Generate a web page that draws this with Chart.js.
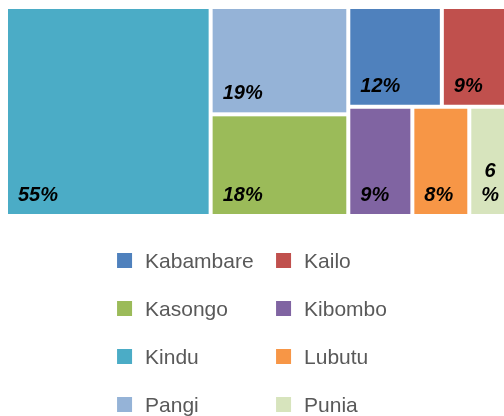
<!DOCTYPE html>
<html>
<head>
<meta charset="utf-8">
<script src="https://cdn.jsdelivr.net/npm/chart.js@4"></script>
<style>
  html, body { margin: 0; padding: 0; background: #fff; overflow: hidden; }
  /* the map runs a few pixels past the right edge of the window, as in the original */
  .wrap { width: 512px; height: 416px; }
</style>
</head>
<body>
<div class="wrap"><canvas id="myChart"></canvas></div>
<script>
const labels = ['Kabambare', 'Kailo', 'Kasongo', 'Kibombo', 'Kindu', 'Lubutu', 'Pangi', 'Punia'];
const shares = [12, 9, 18, 9, 55, 8, 19, 6];
const colors = ['#4F81BD', '#C0504D', '#9BBB59', '#8064A2', '#4BACC6', '#F79646', '#95B3D7', '#D7E4BD'];
// columns left to right, inside a column rows top to bottom, inside a row tiles left to right
const tiling = [['Kindu'], ['Pangi', 'Kasongo'], [['Kabambare', 'Kailo'], ['Kibombo', 'Lubutu', 'Punia']]];

const viewW = 504;

function sumOf(node) {
    if (typeof node === 'string') return shares[labels.indexOf(node)];
    return node.reduce((s, n) => s + sumOf(n), 0);
}

// slice and dice, sizes in scale units (0..1 both ways)
function place(node, x0, y0, x1, y1, alongX, out) {
    if (typeof node === 'string') {
        out.push({ name: node, x0, y0, x1, y1 });
        return out;
    }
    const total = sumOf(node);
    let pos = alongX ? x0 : y0;
    node.forEach(child => {
        const size = (alongX ? x1 - x0 : y1 - y0) * sumOf(child) / total;
        if (alongX) place(child, pos, y0, pos + size, y1, false, out);
        else place(child, x0, pos, x1, pos + size, true, out);
        pos += size;
    });
    return out;
}

const tiles = place(tiling, 0, 0, 1, 1, true, []);

const treemap = {
    id: 'treemap',
    afterDraw(chart) {
        const ctx = chart.ctx;
        const xs = chart.scales.x;
        const ys = chart.scales.y;
        ctx.save();
        tiles.forEach(t => {
            const i = labels.indexOf(t.name);
            const left = xs.getPixelForValue(t.x0) + 2;
            const right = xs.getPixelForValue(t.x1) - 2;
            const top = ys.getPixelForValue(t.y0) + 2;
            const bottom = ys.getPixelForValue(t.y1) - 2;
            ctx.fillStyle = colors[i];
            ctx.fillRect(left, top, right - left, bottom - top);

            // percent label, bottom left, broken up when it does not fit
            ctx.font = 'italic bold 20px "Liberation Sans", Arial, sans-serif';
            ctx.fillStyle = '#000';
            ctx.textBaseline = 'alphabetic';
            ctx.textAlign = 'center';
            const text = shares[i] + '%';
            const room = right - left - 20;
            const lines = ctx.measureText(text).width > room ? text.split('') : [text];
            const blockW = Math.max(...lines.map(l => ctx.measureText(l).width));
            const cx = left + 10 + blockW / 2;
            lines.forEach((l, k) => {
                ctx.fillText(l, cx, bottom - 13 - (lines.length - 1 - k) * 24);
            });
        });

        // legend, two columns under the map
        ctx.font = '21px "Liberation Sans", Arial, sans-serif';
        ctx.textAlign = 'left';
        const colW = 159;
        const widest = Math.max(...labels.filter((_, k) => k % 2 === 1).map(l => ctx.measureText(l).width));
        const x0 = (viewW - (colW + 28 + widest)) / 2;
        const y0 = chart.chartArea.bottom + 37;
        labels.forEach((l, k) => {
            const x = x0 + (k % 2) * colW;
            const y = y0 + Math.floor(k / 2) * 48;
            ctx.fillStyle = colors[k];
            ctx.fillRect(x, y, 15, 15);
            ctx.fillStyle = '#595959';
            ctx.fillText(l, x + 28, y + 15);
        });
        ctx.restore();
    }
};

const chart = new Chart(document.getElementById('myChart'), {
    type: 'scatter',
    data: {
        datasets: [{ label: 'Share', data: [] }]
    },
    options: {
        responsive: true,
        maintainAspectRatio: false,
        animation: false,
        layout: {
            padding: { left: 6, right: 0, top: 7, bottom: 200 }
        },
        scales: {
            x: { type: 'linear', min: 0, max: 1, display: false },
            y: { type: 'linear', min: 0, max: 1, reverse: true, display: false }
        },
        plugins: {
            legend: { display: false },
            tooltip: { enabled: false }
        }
    },
    plugins: [treemap]
});
</script>
</body>
</html>
